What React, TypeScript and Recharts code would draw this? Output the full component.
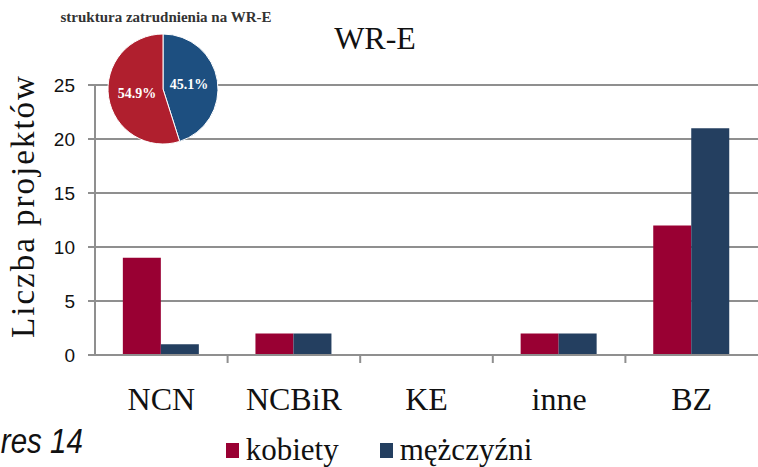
import { Bar, BarChart, CartesianGrid, Legend, Pie, PieChart, Cell, XAxis, YAxis } from "recharts";

const CATEGORIES = ["NCN", "NCBiR", "KE", "inne", "BZ"];
const KOBIETY = [9, 2, 0, 2, 12];
const MEZCZYZNI = [1, 2, 0, 2, 21];
const Y_TICKS = [0, 5, 10, 15, 20, 25];

const PIE_NAMES = ["mężczyźni", "kobiety"];
const PIE_VALUES = [45.1, 54.9];

const RED = "#990033";
const NAVY = "#243f60";
const PIE_COLORS = ["#1d4f80", "#b01f2e"];
const GRID = "#8f8f8f";
const SERIF = "'Liberation Serif', 'Times New Roman', serif";
const SANS = "'Liberation Sans', Arial, sans-serif";

const data = CATEGORIES.map((c, i) => ({ name: c, kobiety: KOBIETY[i], mezczyzni: MEZCZYZNI[i] }));
const pieData = PIE_NAMES.map((n, i) => ({ name: n, value: PIE_VALUES[i] }));

const RADIAN = Math.PI / 180;

function CategoryTick(props: any) {
  const { x, y, payload, index, width, visibleTicksCount } = props;
  const band = (width ?? 663) / (visibleTicksCount ?? 5);
  const edge = x + band / 2;
  return (
    <g>
      {index < (visibleTicksCount ?? 5) - 1 && (
        <line x1={edge} x2={edge} y1={y} y2={y + 8} stroke={GRID} strokeWidth={2} />
      )}
      <text x={x} y={y + 55} textAnchor="middle" fontFamily={SERIF} fontSize={32} fill="#111">
        {payload.value}
      </text>
    </g>
  );
}

function YTitle(props: any) {
  const vb = props.viewBox;
  const cx = 34;
  const cy = vb.y + vb.height / 2 - 14;
  return (
    <text
      x={cx}
      y={cy}
      transform={`rotate(-90 ${cx} ${cy})`}
      textAnchor="middle"
      fontFamily={SERIF}
      fontSize={33}
      letterSpacing={2}
      fill="#111"
    >
      Liczba projektów
    </text>
  );
}

function PieLabel(props: any) {
  const { cx, cy, midAngle, outerRadius, value } = props;
  const r = outerRadius * 0.48;
  const x = cx + r * Math.cos(-midAngle * RADIAN);
  const y = cy + r * Math.sin(-midAngle * RADIAN);
  return (
    <text x={x} y={y} textAnchor="middle" dominantBaseline="central" fill="#fff" fontFamily={SERIF} fontWeight="bold" fontSize={14}>
      {value}%
    </text>
  );
}

function LegendContent() {
  const items = [
    { label: "kobiety", color: RED },
    { label: "mężczyźni", color: NAVY },
  ];
  return (
    <div style={{ display: "flex", justifyContent: "center", gap: 41, fontFamily: SERIF, fontSize: 31, color: "#111" }}>
      {items.map((it) => (
        <div key={it.label} style={{ display: "flex", alignItems: "center" }}>
          <span style={{ display: "inline-block", width: 13, height: 15, background: it.color, marginRight: 7 }} />
          <span>{it.label}</span>
        </div>
      ))}
    </div>
  );
}

export default function App() {
  return (
    <div style={{ position: "absolute", left: 0, top: 0, width: 758, height: 467, background: "#fff", overflow: "hidden" }}>
      <div style={{ position: "absolute", left: 0, top: 0 }}>
        <BarChart
          width={758}
          height={467}
          data={data}
          margin={{ top: 85, right: 0, left: 0, bottom: 52 }}
          barCategoryGap="21%"
          barGap={0}
        >
          <CartesianGrid vertical={false} stroke={GRID} strokeWidth={2} />
          <XAxis
            dataKey="name"
            height={60}
            stroke={GRID}
            strokeWidth={2}
            tickLine={false}
            tickSize={0}
            tickMargin={0}
            interval={0}
            tick={<CategoryTick />}
          />
          <YAxis
            width={95}
            domain={[0, 25]}
            ticks={Y_TICKS}
            stroke={GRID}
            strokeWidth={2}
            tickSize={7}
            tickMargin={13}
            tick={{ fill: "#111", fontFamily: SANS, fontSize: 19 }}
            label={<YTitle />}
          />
          <Legend
            verticalAlign="middle"
            align="center"
            layout="horizontal"
            wrapperStyle={{ top: 432, left: 0, width: 758 }}
            content={<LegendContent />}
          />
          <Bar dataKey="kobiety" name="kobiety" fill={RED} isAnimationActive={false} />
          <Bar dataKey="mezczyzni" name="mężczyźni" fill={NAVY} isAnimationActive={false} />
        </BarChart>
      </div>

      <div style={{ position: "absolute", left: 0, top: 0 }}>
        <PieChart width={320} height={150}>
          <Pie
            data={pieData}
            dataKey="value"
            nameKey="name"
            cx={158}
            cy={84}
            outerRadius={55}
            startAngle={90}
            endAngle={-270}
            stroke="#fff"
            strokeWidth={1}
            label={<PieLabel />}
            labelLine={false}
            isAnimationActive={false}
          >
            {pieData.map((d, i) => (
              <Cell key={d.name} fill={PIE_COLORS[i]} />
            ))}
          </Pie>
        </PieChart>
      </div>

      <svg width={758} height={467} style={{ position: "absolute", left: 0, top: 0, pointerEvents: "none" }}>
        <text x={166} y={22} textAnchor="middle" fontFamily={SERIF} fontWeight="bold" fontSize={15} fill="#333">
          struktura zatrudnienia na WR-E
        </text>
        <text x={375} y={49} textAnchor="middle" fontFamily={SERIF} fontSize={32} fill="#111">
          WR-E
        </text>
        <text
          x={1}
          y={453}
          transform="scale(0.82 1)"
          fontFamily={SANS}
          fontStyle="italic"
          fontSize={36}
          fill="#111"
        >
          res 14
        </text>
      </svg>
    </div>
  );
}
